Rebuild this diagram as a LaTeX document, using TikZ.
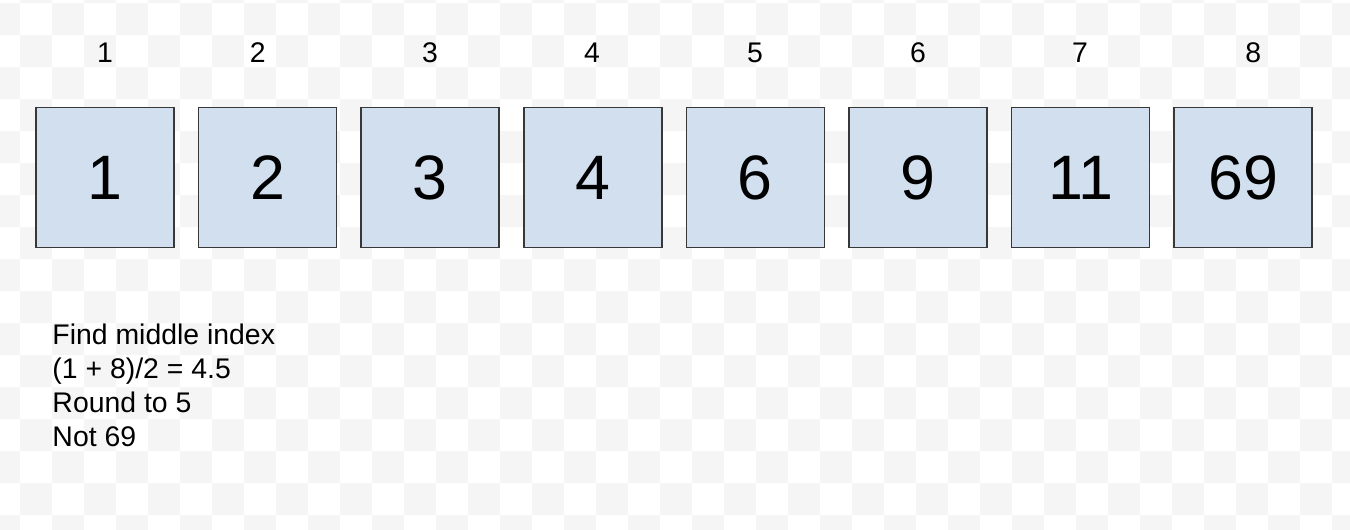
\documentclass[tikz,border=0pt]{standalone}
\usepackage{fontspec}
\setmainfont{Liberation Sans}
\definecolor{cellfill}{HTML}{D2DFEF}
\definecolor{cellline}{HTML}{383838}
\definecolor{checker}{HTML}{F5F5F5}
\begin{document}
\begin{tikzpicture}[x=1bp,y=-1bp,
  cellbox/.style={draw=cellline, fill=cellfill, line width=1.5bp, minimum width=138bp, minimum height=140bp, inner sep=0pt, text height=45bp, text depth=0pt, font=\fontsize{63}{63}\selectfont},
  idxlabel/.style={anchor=base, inner sep=0pt, font=\fontsize{28.5}{28.5}\selectfont},
  note/.style={anchor=base west, align=left, inner sep=0pt, font=\fontsize{28.5}{34.3}\selectfont}]
\useasboundingbox (0,0) rectangle (1350,530);
\begin{scope}
\clip (0,0) rectangle (1350,530);
\fill[white] (0,0) rectangle (1350,530);
\foreach \r in {-1,...,16}{
  \foreach \c in {-1,...,42}{
    \pgfmathtruncatemacro\chk{mod(\c+\r+4,2)}
    \ifnum\chk=1 \fill[checker] ({20+32*\c},{3+32*\r}) rectangle ++(32,32); \fi
  }
}
\end{scope}
\foreach \v [count=\k] in {1,2,3,4,6,9,11,69}
  \node[cellbox] (b\k) at ({105+162.6*(\k-1)},177.5) {\v};
\foreach \x [count=\k] in {105,257.7,430,592,755,918,1080,1253.3}
  \node[idxlabel] (l\k) at (\x,62.3) {\k};
\node[note] (txt) at (52.3,446.7) {Find middle index\\(1 + 8)/2 = 4.5\\Round to 5\\Not 69};
\end{tikzpicture}
\end{document}
